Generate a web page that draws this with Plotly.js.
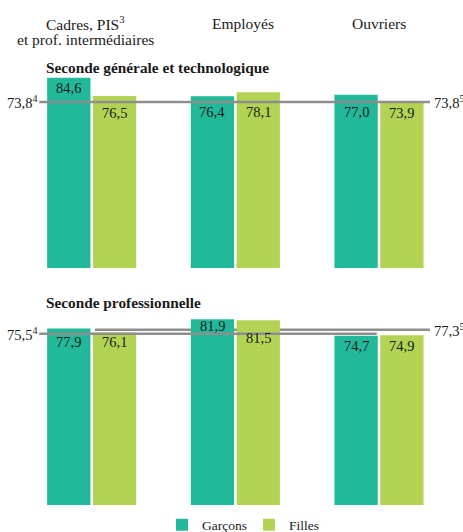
<!DOCTYPE html>
<html>
<head>
<meta charset="utf-8">
<script src="https://cdn.plot.ly/plotly-3.0.1.min.js"></script>
<style>html,body{margin:0;padding:0;background:#fff;}#chart{width:463px;height:532px;}</style>
</head>
<body>
<div id="chart"></div>
<script>
// ---- Data ----
const categories = ['Cadres, PIS<sup>3</sup><br>et prof. intermédiaires', 'Employés', 'Ouvriers'];
const seriesNames = ['Garçons', 'Filles'];
const panelTitles = ['Seconde générale et technologique', 'Seconde professionnelle'];
const sgtGarcons = [84.6, 76.4, 77.0];
const sgtFilles = [76.5, 78.1, 73.9];
const sproGarcons = [77.9, 81.9, 74.7];
const sproFilles = [76.1, 81.5, 74.9];
const sgtRefGarcons = 73.8;   // note 4
const sgtRefFilles = 73.8;    // note 5
const sproRefGarcons = 75.5;  // note 4
const sproRefFilles = 77.3;   // note 5

// ---- Styling ----
const cGarcons = '#22B99A';
const cFilles = '#B2D353';
const lineColor = '#8e8e8e';
const txtColor = '#1a1a1a';
const serif = 'Times New Roman';
// pixel offsets of value labels below the bar tops (label placement only)
const labelDrop = {
  sgtG: [10, 16, 17], sgtF: [17, 20, 11],
  proG: [14, 7, 10], proF: [10, 18, 10.5]
};
const catShift = [-6, 8, 0];
const bargap = 0.3623;

const xs = categories.map((_, i) => i);
const fmt = v => v.toFixed(1).replace('.', ',');

function bar(y, name, color, yaxis, show) {
  return {
    type: 'bar', x: xs, y: y, name: name, yaxis: yaxis, xaxis: 'x',
    marker: {color: color}, showlegend: show, hoverinfo: 'skip'
  };
}

const data = [
  bar(sgtGarcons, seriesNames[0], cGarcons, 'y', true),
  bar(sgtFilles, seriesNames[1], cFilles, 'y', true),
  bar(sproGarcons, seriesNames[0], cGarcons, 'y2', false),
  bar(sproFilles, seriesNames[1], cFilles, 'y2', false)
];

const annotations = [];
// value labels, centred on each bar of the group
const groupOffset = (1 - bargap) / 4;
function addLabels(vals, drops, yref, sign) {
  vals.forEach((v, i) => {
    annotations.push({
      x: i + sign * groupOffset, y: v, xref: 'x', yref: yref,
      text: fmt(v), showarrow: false, xanchor: 'center', yanchor: 'middle',
      yshift: -drops[i], font: {family: serif, size: 14.5, color: txtColor}
    });
  });
}
addLabels(sgtGarcons, labelDrop.sgtG, 'y', -1);
addLabels(sgtFilles, labelDrop.sgtF, 'y', 1);
addLabels(sproGarcons, labelDrop.proG, 'y2', -1);
addLabels(sproFilles, labelDrop.proF, 'y2', 1);

// category headers
categories.forEach((c, i) => {
  c.split('<br>').forEach((line, k) => {
    annotations.push({
      x: i, xref: 'x', xshift: catShift[i], y: 1, yref: 'paper', yanchor: 'middle',
      yshift: -23 - k * 16, text: line, showarrow: false,
      font: {family: serif, size: 15.5, color: txtColor}
    });
  });
});

// panel titles
[0.873, 0.4323].forEach((py, k) => {
  annotations.push({
    x: 44 / 463, xref: 'paper', xanchor: 'left', y: py, yref: 'paper', yanchor: 'middle',
    text: '<b>' + panelTitles[k] + '</b>', showarrow: false,
    font: {family: serif, size: 15.3, color: txtColor}
  });
});

// reference line labels
function refLabel(v, note, yref, left) {
  annotations.push({
    x: left ? 39 / 463 : 432 / 463, xref: 'paper', xanchor: left ? 'right' : 'left',
    y: v, yref: yref, yanchor: 'middle', showarrow: false,
    text: fmt(v) + '<sup>' + note + '</sup>',
    font: {family: serif, size: 14.5, color: txtColor}
  });
}
refLabel(sgtRefGarcons, 4, 'y', true);
refLabel(sgtRefFilles, 5, 'y', false);
refLabel(sproRefGarcons, 4, 'y2', true);
refLabel(sproRefFilles, 5, 'y2', false);

const shapes = [
  {type: 'line', xref: 'x', yref: 'y', x0: -0.365, x1: 2.355, y0: sgtRefGarcons, y1: sgtRefFilles,
   line: {color: lineColor, width: 2.5}, layer: 'above'},
  {type: 'line', xref: 'x', yref: 'y2', x0: 0.023, x1: 2.355, y0: sproRefFilles, y1: sproRefFilles,
   line: {color: lineColor, width: 2.5}, layer: 'below'},
  {type: 'line', xref: 'x', yref: 'y2', x0: -0.365, x1: 1.984, y0: sproRefGarcons, y1: sproRefGarcons,
   line: {color: lineColor, width: 2.5}, layer: 'above'}
];

const layout = {
  width: 463, height: 532,
  margin: {l: 0, r: 0, t: 0, b: 0, autoexpand: false},
  paper_bgcolor: '#fff', plot_bgcolor: 'rgba(0,0,0,0)',
  separators: ', ',
  barmode: 'group', bargap: bargap, bargroupgap: 0.0546,
  font: {family: serif, color: txtColor},
  xaxis: {range: [-0.6384, 2.5848], showgrid: false, zeroline: false, showticklabels: false, ticks: '', fixedrange: true},
  yaxis: {domain: [0.4957, 0.8872], range: [0, 92.45], visible: false, fixedrange: true},
  yaxis2: {domain: [0.05075, 0.4455], range: [0, 92.63], visible: false, fixedrange: true},
  showlegend: true,
  legend: {orientation: 'h', x: 162 / 463, xanchor: 'left', y: 0.013, yanchor: 'middle',
           entrywidth: 42, entrywidthmode: 'pixels',
           font: {family: serif, size: 13.5, color: txtColor}, bgcolor: 'rgba(0,0,0,0)'},
  annotations: annotations,
  shapes: shapes
};

Plotly.newPlot('chart', data, layout, {displayModeBar: false, staticPlot: true});
</script>
</body>
</html>
